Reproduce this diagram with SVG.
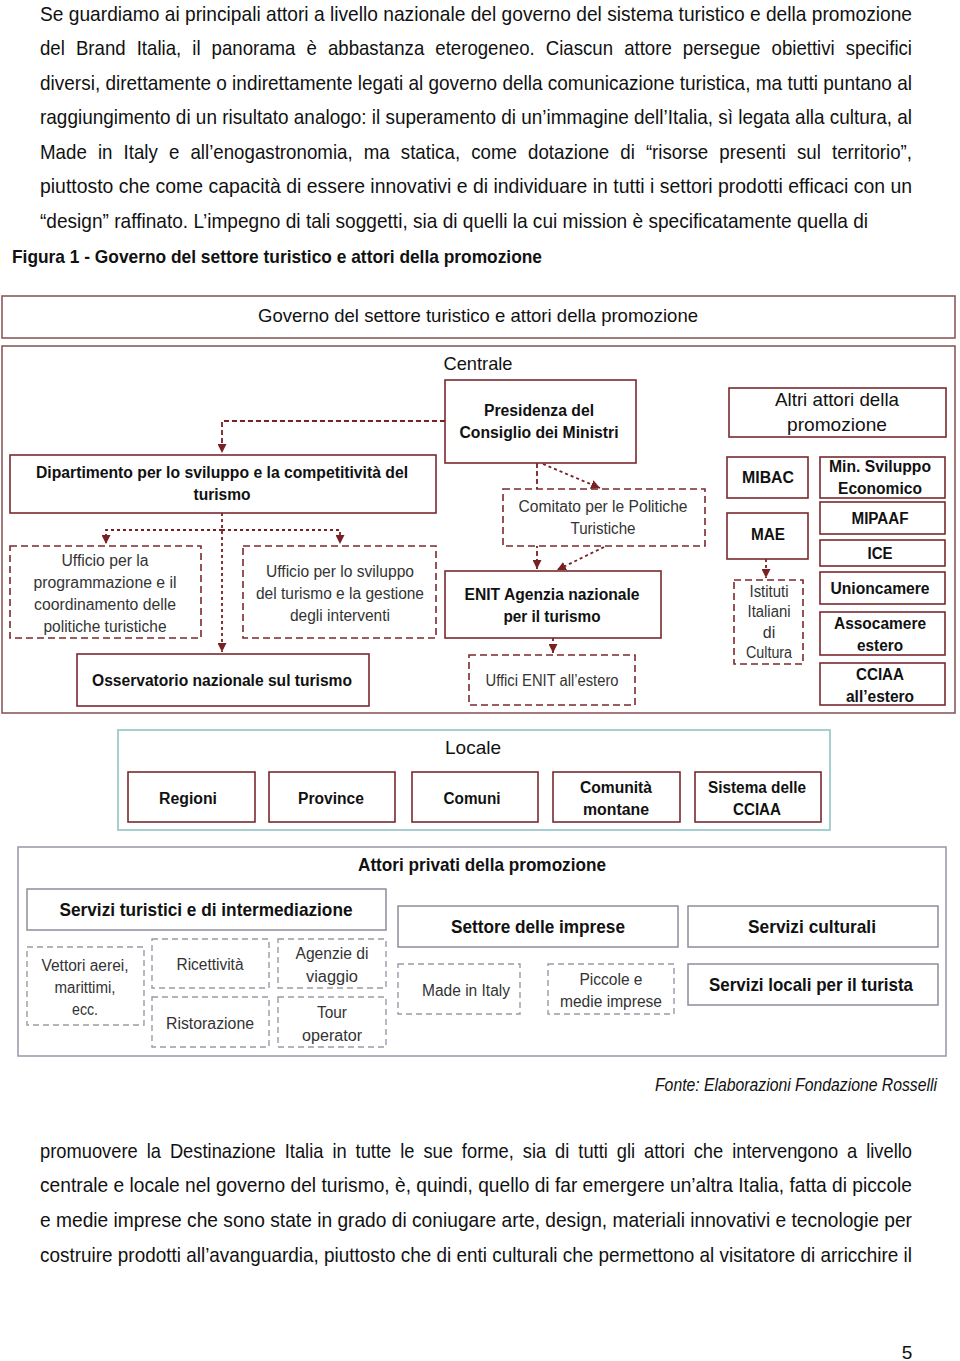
<svg xmlns="http://www.w3.org/2000/svg" width="960" height="1361" viewBox="0 0 960 1361">
<defs>
<marker id="ah" viewBox="0 0 10 10" refX="10" refY="5" markerWidth="9" markerHeight="9" markerUnits="userSpaceOnUse" orient="auto"><path d="M0,0 L10,5 L0,10 Z" fill="#7a1f22"/></marker>
<style>
.body{font-family:"Liberation Sans Narrow","Liberation Sans",Arial,sans-serif;font-size:19px;fill:#111}
.cap{font-family:"Liberation Sans Narrow","Liberation Sans",Arial,sans-serif;font-size:19px;font-weight:bold;fill:#111}
.fonte{font-family:"Liberation Sans Narrow","Liberation Sans",Arial,sans-serif;font-size:16px;font-style:italic;fill:#111}
.t{font-family:"Liberation Sans",Arial,sans-serif;fill:#111;text-anchor:middle}
.h{font-size:19px}
.b{font-size:16px;font-weight:bold}
.n{font-size:16px;fill:#333}
.box{fill:#fff;stroke:#7a2a2e;stroke-width:1.6}
.dbox{fill:#fff;stroke:#7a2a2e;stroke-width:1.6;stroke-dasharray:7 4}
.frame{fill:#fff;stroke:#8a5a5c;stroke-width:1.6}
.loc{fill:#fff;stroke:#9fcaca;stroke-width:1.8}
.priv{fill:#fff;stroke:#9c9cae;stroke-width:1.6}
.gbox{fill:#fff;stroke:#8d8d9c;stroke-width:1.5}
.gdbox{fill:#fff;stroke:#9a9aa6;stroke-width:1.4;stroke-dasharray:6 4}
.con{fill:none;stroke:#7a1f22;stroke-width:1.8;stroke-dasharray:3 3}
.con2{fill:none;stroke:#7a1f22;stroke-width:1.8;stroke-dasharray:5 3}
</style>
</defs>
<rect width="960" height="1361" fill="#fff"/>

<g id="text-top" transform="scale(1 1.1)">
<text class="body" x="40" y="19.1" textLength="872" lengthAdjust="spacingAndGlyphs">Se guardiamo ai principali attori a livello nazionale del governo del sistema turistico e della promozione</text>
<text class="body" x="40" y="50" textLength="872" lengthAdjust="spacingAndGlyphs" word-spacing="6">del Brand Italia, il panorama è abbastanza eterogeneo. Ciascun attore persegue obiettivi specifici</text>
<text class="body" x="40" y="81.8" textLength="872" lengthAdjust="spacingAndGlyphs">diversi, direttamente o indirettamente legati al governo della comunicazione turistica, ma tutti puntano al</text>
<text class="body" x="40" y="112.7" textLength="872" lengthAdjust="spacingAndGlyphs">raggiungimento di un risultato analogo: il superamento di un’immagine dell’Italia, sì legata alla cultura, al</text>
<text class="body" x="40" y="144.5" textLength="872" lengthAdjust="spacingAndGlyphs" word-spacing="6">Made in Italy e all’enogastronomia, ma statica, come dotazione di “risorse presenti sul territorio”,</text>
<text class="body" x="40" y="175.5" textLength="872" lengthAdjust="spacingAndGlyphs">piuttosto che come capacità di essere innovativi e di individuare in tutti i settori prodotti efficaci con un</text>
<text class="body" x="40" y="207.3" textLength="828" lengthAdjust="spacingAndGlyphs">“design” raffinato.  L’impegno di tali soggetti, sia di quelli la cui mission è specificatamente quella di</text>
</g>
<text class="cap" x="12" y="263" textLength="530" lengthAdjust="spacingAndGlyphs">Figura 1 - Governo del settore turistico e attori della promozione</text>

<g id="frames">
<rect class="frame" x="2" y="296" width="953" height="42"/>
<text class="t h" x="478" y="322" textLength="440" lengthAdjust="spacingAndGlyphs">Governo del settore turistico e attori della promozione</text>
<rect class="frame" x="2" y="346" width="953" height="367"/>
<text class="t h" x="478" y="370" textLength="69" lengthAdjust="spacingAndGlyphs">Centrale</text>
<rect class="loc" x="118" y="730" width="712" height="100"/>
<text class="t h" x="473" y="754" textLength="56" lengthAdjust="spacingAndGlyphs">Locale</text>
<rect class="priv" x="18" y="847" width="928" height="209"/>
<text class="t h" x="482" y="871" textLength="248" lengthAdjust="spacingAndGlyphs" style="font-weight:600">Attori privati della promozione</text>
</g>

<g id="connectors">
<path class="con2" d="M445,421 H222 V453" marker-end="url(#ah)"/>
<path class="con" d="M222,513 V652" marker-end="url(#ah)"/>
<path class="con" d="M222,530 H106 V544" marker-end="url(#ah)"/>
<path class="con" d="M222,530 H340 V544" marker-end="url(#ah)"/>
<path class="con2" d="M537,463 V569" marker-end="url(#ah)"/>
<path class="con" d="M543,464 L600,488" marker-end="url(#ah)"/>
<path class="con" d="M604,547 L557,570" marker-end="url(#ah)"/>
<path class="con" d="M553,638 V653" marker-end="url(#ah)"/>
<path class="con" d="M766,559 V578" marker-end="url(#ah)"/>
</g>

<g id="presidenza"><rect class="box" x="445" y="380" width="191" height="83"/>
<text class="t b" x="539" y="416" textLength="110" lengthAdjust="spacingAndGlyphs">Presidenza del</text>
<text class="t b" x="539" y="438" textLength="159" lengthAdjust="spacingAndGlyphs">Consiglio dei Ministri</text></g>

<g id="dipartimento"><rect class="box" x="10" y="455" width="426" height="58"/>
<text class="t b" x="222" y="478" textLength="372" lengthAdjust="spacingAndGlyphs">Dipartimento per lo sviluppo e la competitività del</text>
<text class="t b" x="222" y="500" textLength="57" lengthAdjust="spacingAndGlyphs">turismo</text></g>

<g id="ufficio-prog"><rect class="dbox" x="10" y="546" width="191" height="92"/>
<text class="t n" x="105" y="566" textLength="87" lengthAdjust="spacingAndGlyphs">Ufficio per la</text>
<text class="t n" x="105" y="588" textLength="143" lengthAdjust="spacingAndGlyphs">programmazione e il</text>
<text class="t n" x="105" y="610" textLength="142" lengthAdjust="spacingAndGlyphs">coordinamento delle</text>
<text class="t n" x="105" y="632" textLength="123" lengthAdjust="spacingAndGlyphs">politiche turistiche</text></g>

<g id="ufficio-svil"><rect class="dbox" x="243" y="546" width="193" height="92"/>
<text class="t n" x="340" y="577" textLength="148" lengthAdjust="spacingAndGlyphs">Ufficio per lo sviluppo</text>
<text class="t n" x="340" y="599" textLength="168" lengthAdjust="spacingAndGlyphs">del turismo e la gestione</text>
<text class="t n" x="340" y="621" textLength="100" lengthAdjust="spacingAndGlyphs">degli interventi</text></g>

<g id="osservatorio"><rect class="box" x="77" y="654" width="292" height="52"/>
<text class="t b" x="222" y="686" textLength="260" lengthAdjust="spacingAndGlyphs">Osservatorio nazionale sul turismo</text></g>

<g id="comitato"><rect class="dbox" x="503" y="489" width="202" height="57"/>
<text class="t n" x="603" y="512" textLength="169" lengthAdjust="spacingAndGlyphs">Comitato per le Politiche</text>
<text class="t n" x="603" y="534" textLength="65" lengthAdjust="spacingAndGlyphs">Turistiche</text></g>

<g id="enit"><rect class="box" x="445" y="571" width="216" height="67"/>
<text class="t b" x="552" y="600" textLength="175" lengthAdjust="spacingAndGlyphs">ENIT Agenzia nazionale</text>
<text class="t b" x="552" y="622" textLength="97" lengthAdjust="spacingAndGlyphs">per il turismo</text></g>

<g id="uffici-enit"><rect class="dbox" x="469" y="655" width="166" height="50"/>
<text class="t n" x="552" y="686" textLength="133" lengthAdjust="spacingAndGlyphs">Uffici ENIT all’estero</text></g>

<g id="altri-attori"><rect class="box" x="729" y="388" width="217" height="49"/>
<text class="t h" x="837" y="406" textLength="124" lengthAdjust="spacingAndGlyphs">Altri attori della</text>
<text class="t h" x="837" y="431" textLength="100" lengthAdjust="spacingAndGlyphs">promozione</text></g>

<g id="mibac"><rect class="box" x="727" y="457" width="81" height="41"/>
<text class="t b" x="768" y="483" textLength="52" lengthAdjust="spacingAndGlyphs">MIBAC</text></g>

<g id="mae"><rect class="box" x="727" y="513" width="81" height="46"/>
<text class="t b" x="768" y="540" textLength="34" lengthAdjust="spacingAndGlyphs">MAE</text></g>

<g id="istituti"><rect class="dbox" x="734" y="580" width="69" height="84"/>
<text class="t n" x="769" y="597" textLength="39" lengthAdjust="spacingAndGlyphs">Istituti</text>
<text class="t n" x="769" y="617" textLength="43" lengthAdjust="spacingAndGlyphs">Italiani</text>
<text class="t n" x="769" y="638">di</text>
<text class="t n" x="769" y="658" textLength="46" lengthAdjust="spacingAndGlyphs">Cultura</text></g>

<g id="min-sviluppo"><rect class="box" x="820" y="457" width="125" height="41"/>
<text class="t b" x="880" y="472" textLength="102" lengthAdjust="spacingAndGlyphs">Min. Sviluppo</text>
<text class="t b" x="880" y="494" textLength="84" lengthAdjust="spacingAndGlyphs">Economico</text></g>

<g id="mipaaf"><rect class="box" x="820" y="502" width="125" height="32"/>
<text class="t b" x="880" y="524" textLength="57" lengthAdjust="spacingAndGlyphs">MIPAAF</text></g>

<g id="ice"><rect class="box" x="820" y="540" width="125" height="26"/>
<text class="t b" x="880" y="559" textLength="25" lengthAdjust="spacingAndGlyphs">ICE</text></g>

<g id="unioncamere"><rect class="box" x="820" y="572" width="125" height="32"/>
<text class="t b" x="880" y="594" textLength="99" lengthAdjust="spacingAndGlyphs">Unioncamere</text></g>

<g id="assocamere"><rect class="box" x="820" y="612" width="125" height="43"/>
<text class="t b" x="880" y="629" textLength="92" lengthAdjust="spacingAndGlyphs">Assocamere</text>
<text class="t b" x="880" y="651" textLength="46" lengthAdjust="spacingAndGlyphs">estero</text></g>

<g id="cciaa-estero"><rect class="box" x="820" y="663" width="125" height="42"/>
<text class="t b" x="880" y="680" textLength="48" lengthAdjust="spacingAndGlyphs">CCIAA</text>
<text class="t b" x="880" y="702" textLength="68" lengthAdjust="spacingAndGlyphs">all’estero</text></g>

<g id="regioni"><rect class="box" x="128" y="772" width="127" height="50"/>
<text class="t b" x="188" y="804" textLength="58" lengthAdjust="spacingAndGlyphs">Regioni</text></g>
<g id="province"><rect class="box" x="269" y="772" width="126" height="50"/>
<text class="t b" x="331" y="804" textLength="66" lengthAdjust="spacingAndGlyphs">Province</text></g>
<g id="comuni"><rect class="box" x="412" y="772" width="126" height="50"/>
<text class="t b" x="472" y="804" textLength="57" lengthAdjust="spacingAndGlyphs">Comuni</text></g>
<g id="comunita"><rect class="box" x="553" y="772" width="127" height="50"/>
<text class="t b" x="616" y="793" textLength="72" lengthAdjust="spacingAndGlyphs">Comunità</text>
<text class="t b" x="616" y="815" textLength="66" lengthAdjust="spacingAndGlyphs">montane</text></g>
<g id="sistema-cciaa"><rect class="box" x="695" y="772" width="126" height="50"/>
<text class="t b" x="757" y="793" textLength="98" lengthAdjust="spacingAndGlyphs">Sistema delle</text>
<text class="t b" x="757" y="815" textLength="48" lengthAdjust="spacingAndGlyphs">CCIAA</text></g>

<g id="servizi-turistici"><rect class="gbox" x="27" y="889" width="359" height="41"/>
<text class="t h" x="206" y="916" textLength="293" lengthAdjust="spacingAndGlyphs" style="font-weight:600">Servizi turistici e di intermediazione</text></g>
<g id="vettori"><rect class="gdbox" x="27" y="947" width="117" height="78"/>
<text class="t n" x="85" y="971" textLength="87" lengthAdjust="spacingAndGlyphs">Vettori aerei,</text>
<text class="t n" x="85" y="993" textLength="61" lengthAdjust="spacingAndGlyphs">marittimi,</text>
<text class="t n" x="85" y="1015" textLength="26" lengthAdjust="spacingAndGlyphs">ecc.</text></g>
<g id="ricettivita"><rect class="gdbox" x="152" y="939" width="117" height="49"/>
<text class="t n" x="210" y="970" textLength="67" lengthAdjust="spacingAndGlyphs">Ricettività</text></g>
<g id="agenzie"><rect class="gdbox" x="278" y="939" width="108" height="49"/>
<text class="t n" x="332" y="959" textLength="73" lengthAdjust="spacingAndGlyphs">Agenzie di</text>
<text class="t n" x="332" y="982" textLength="52" lengthAdjust="spacingAndGlyphs">viaggio</text></g>
<g id="ristorazione"><rect class="gdbox" x="152" y="997" width="117" height="50"/>
<text class="t n" x="210" y="1029" textLength="88" lengthAdjust="spacingAndGlyphs">Ristorazione</text></g>
<g id="tour-operator"><rect class="gdbox" x="278" y="997" width="108" height="50"/>
<text class="t n" x="332" y="1018" textLength="30" lengthAdjust="spacingAndGlyphs">Tour</text>
<text class="t n" x="332" y="1041" textLength="60" lengthAdjust="spacingAndGlyphs">operator</text></g>

<g id="settore-imprese"><rect class="gbox" x="398" y="906" width="280" height="41"/>
<text class="t h" x="538" y="933" textLength="174" lengthAdjust="spacingAndGlyphs" style="font-weight:600">Settore delle imprese</text></g>
<g id="servizi-culturali"><rect class="gbox" x="688" y="906" width="250" height="41"/>
<text class="t h" x="812" y="933" textLength="128" lengthAdjust="spacingAndGlyphs" style="font-weight:600">Servizi culturali</text></g>
<g id="made-in-italy"><rect class="gdbox" x="398" y="964" width="122" height="50"/>
<text class="t n" x="466" y="996" textLength="88" lengthAdjust="spacingAndGlyphs">Made in Italy</text></g>
<g id="pmi"><rect class="gdbox" x="548" y="964" width="126" height="50"/>
<text class="t n" x="611" y="985" textLength="63" lengthAdjust="spacingAndGlyphs">Piccole e</text>
<text class="t n" x="611" y="1007" textLength="102" lengthAdjust="spacingAndGlyphs">medie imprese</text></g>
<g id="servizi-locali"><rect class="gbox" x="688" y="964" width="250" height="41"/>
<text class="t h" x="811" y="991" textLength="204" lengthAdjust="spacingAndGlyphs" style="font-weight:600">Servizi locali per il turista</text></g>

<g id="fonte" transform="scale(1 1.12)">
<text class="fonte" x="655" y="974.1" textLength="282" lengthAdjust="spacingAndGlyphs">Fonte: Elaborazioni Fondazione Rosselli</text>
</g>
<g id="text-bottom" transform="scale(1 1.1)">
<text class="body" x="40" y="1052.7" textLength="872" lengthAdjust="spacingAndGlyphs" word-spacing="4">promuovere la Destinazione Italia in tutte le sue forme, sia di tutti gli attori che intervengono a livello</text>
<text class="body" x="40" y="1083.6" textLength="872" lengthAdjust="spacingAndGlyphs">centrale e locale nel governo del turismo, è, quindi, quello di far emergere un’altra Italia, fatta di piccole</text>
<text class="body" x="40" y="1115.5" textLength="872" lengthAdjust="spacingAndGlyphs">e medie imprese che sono state in grado di coniugare arte, design, materiali innovativi e tecnologie per</text>
<text class="body" x="40" y="1147.3" textLength="872" lengthAdjust="spacingAndGlyphs">costruire prodotti all’avanguardia, piuttosto che di enti culturali che permettono al visitatore di arricchire il</text>
</g>
<text class="body" x="907" y="1359" text-anchor="middle" font-size="18">5</text>
</svg>
